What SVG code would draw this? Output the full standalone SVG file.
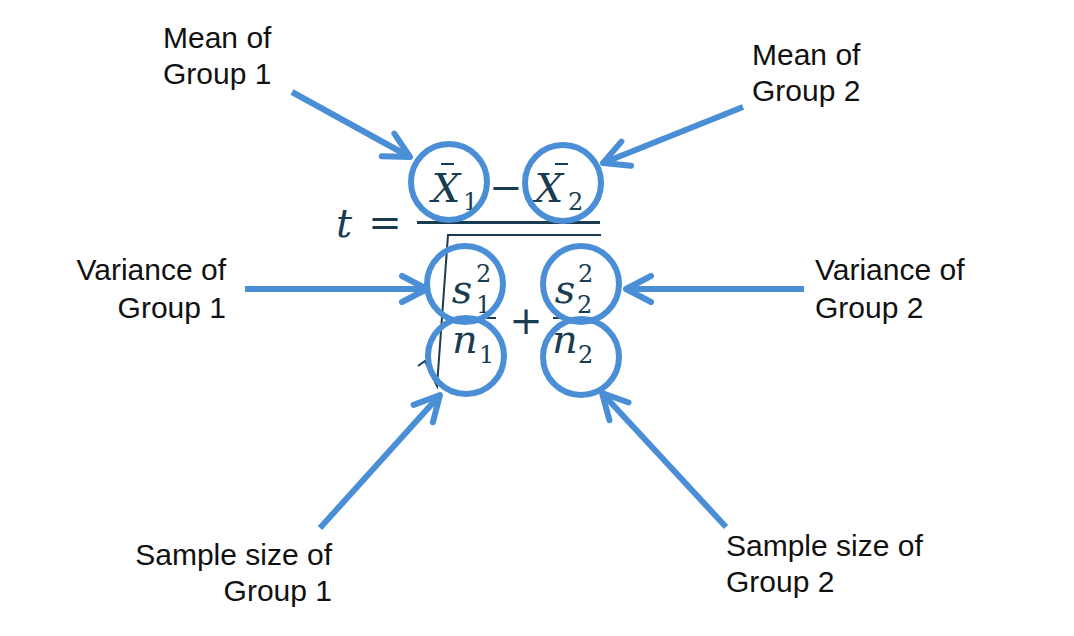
<svg xmlns="http://www.w3.org/2000/svg" width="1074" height="636" viewBox="0 0 1074 636">
<style>
.lbl{font-family:"Liberation Sans",Arial,sans-serif;font-size:30px;fill:#111}
.m{font-family:"DejaVu Serif",serif;font-style:italic;font-size:40px;fill:#1a3c50}
.n{font-family:"DejaVu Serif",serif;font-size:40px;fill:#1a3c50}
.s{font-family:"DejaVu Serif",serif;font-size:24px;fill:#1a3c50}
.bar{stroke:#1a3c50;fill:none}
.ring{fill:none;stroke:#4a8fd6;stroke-width:6}
.arr{fill:none;stroke:#4a8fd6;stroke-width:6;marker-end:url(#ah)}
</style>
<defs>
<marker id="ah" markerUnits="userSpaceOnUse" markerWidth="40" markerHeight="40" refX="0" refY="0" orient="auto" overflow="visible">
<path d="M-25,-13 L0,0 L-25,13" fill="none" stroke="#4a8fd6" stroke-width="6" stroke-linecap="round" stroke-linejoin="round"/>
</marker>
</defs>
<rect width="1074" height="636" fill="#fff"/>
<g id="formula">
<text class="m" x="336" y="237">t</text>
<text class="n" x="385" y="236" text-anchor="middle">=</text>
<text class="m" x="446" y="202" text-anchor="middle">X</text>
<line class="bar" x1="441" y1="164" x2="454" y2="164" stroke-width="2"/>
<text class="s" x="463" y="210">1</text>
<text class="n" x="506" y="201" text-anchor="middle">−</text>
<text class="m" x="549" y="202" text-anchor="middle">X</text>
<line class="bar" x1="555" y1="164" x2="568" y2="164" stroke-width="2"/>
<text class="s" x="568" y="210">2</text>
<line class="bar" x1="417" y1="222.5" x2="600" y2="222.5" stroke-width="3"/>
<path class="bar" d="M418,366 L425,361 L437,386 L448,235 L601,235" stroke-width="2"/>
<text class="m" x="462" y="303" text-anchor="middle">s</text>
<text class="s" x="476" y="282">2</text>
<text class="s" x="476" y="313">1</text>
<line class="bar" x1="452" y1="318" x2="496" y2="318" stroke-width="2"/>
<text class="m" x="465" y="353" text-anchor="middle">n</text>
<text class="s" x="479" y="363">1</text>
<text class="n" x="526" y="334" text-anchor="middle">+</text>
<text class="m" x="565" y="303" text-anchor="middle">s</text>
<text class="s" x="578" y="282">2</text>
<text class="s" x="577" y="313">2</text>
<line class="bar" x1="553" y1="318" x2="597" y2="318" stroke-width="2"/>
<text class="m" x="565" y="353" text-anchor="middle">n</text>
<text class="s" x="578" y="363">2</text>
</g>
<g id="node-mean1"><circle class="ring" cx="449" cy="182" r="38"/></g>
<g id="node-mean2"><circle class="ring" cx="563" cy="183" r="38"/></g>
<g id="node-var1"><circle class="ring" cx="465" cy="284" r="38"/></g>
<g id="node-var2"><circle class="ring" cx="581" cy="284" r="38"/></g>
<g id="node-n1"><circle class="ring" cx="466" cy="356" r="38"/></g>
<g id="node-n2"><circle class="ring" cx="581" cy="357" r="38"/></g>
<g id="label-mean1"><text class="lbl" x="163" y="48">Mean of</text><text class="lbl" x="163" y="84">Group 1</text></g>
<g id="label-mean2"><text class="lbl" x="752" y="65">Mean of</text><text class="lbl" x="752" y="101">Group 2</text></g>
<g id="label-var1" text-anchor="end"><text class="lbl" x="226" y="280">Variance of</text><text class="lbl" x="226" y="318">Group 1</text></g>
<g id="label-var2"><text class="lbl" x="815" y="280">Variance of</text><text class="lbl" x="815" y="318">Group 2</text></g>
<g id="label-n1" text-anchor="end"><text class="lbl" x="332" y="565">Sample size of</text><text class="lbl" x="332" y="601">Group 1</text></g>
<g id="label-n2"><text class="lbl" x="726" y="556">Sample size of</text><text class="lbl" x="726" y="592">Group 2</text></g>
<g id="connectors">
<line class="arr" x1="292" y1="92" x2="410" y2="157"/>
<line class="arr" x1="743" y1="107" x2="603" y2="163"/>
<line class="arr" x1="245" y1="289" x2="427" y2="289"/>
<line class="arr" x1="804" y1="289" x2="626" y2="289"/>
<line class="arr" x1="320" y1="528" x2="440" y2="395"/>
<line class="arr" x1="726" y1="527" x2="602" y2="393"/>
</g>
</svg>
